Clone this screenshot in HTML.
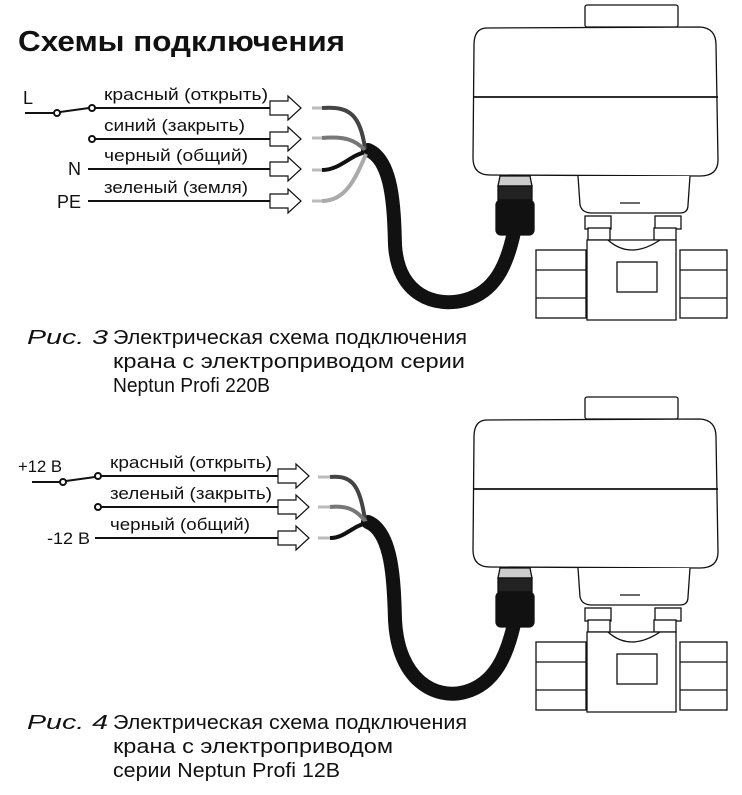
<!DOCTYPE html>
<html><head><meta charset="utf-8"><style>
html,body{margin:0;padding:0;background:#fff;}
svg{display:block;font-family:"Liberation Sans","DejaVu Sans",sans-serif;}
</style></head><body>
<svg width="742" height="795" viewBox="0 0 742 795" xmlns="http://www.w3.org/2000/svg">
<defs>
<g id="act" fill="#fff" stroke="#111" stroke-width="1.3">
  <rect x="585" y="5" width="93" height="22" rx="2"/>
  <path d="M487,28 L700,27 Q716,28 716,45 L718,160 Q718,176 700,176 L490,175 Q473,175 473,158 L474,45 Q474,28 487,28Z"/>
  <line x1="473" y1="97" x2="718" y2="97" stroke-width="1.8"/>
  <path d="M578,176 L580,205 Q582,213 592,213 L680,213 Q688,213 688,205 L690,176"/>
  <line x1="620" y1="203" x2="640" y2="203"/>
  <rect x="585" y="216" width="26" height="13"/>
  <rect x="655" y="216" width="26" height="13"/>
  <rect x="588" y="228" width="22" height="12"/>
  <rect x="654" y="228" width="22" height="12"/>
  <path d="M587,240 L676,240 L676,320 L587,320Z"/>
  <rect x="536" y="250" width="50" height="68"/>
  <line x1="536" y1="270" x2="586" y2="270"/><line x1="536" y1="298" x2="586" y2="298"/>
  <rect x="680" y="250" width="47" height="68"/>
  <line x1="680" y1="270" x2="727" y2="270"/><line x1="680" y1="298" x2="727" y2="298"/>
  <path d="M608,240 Q630,260 660,240" fill="none"/>
  <rect x="617" y="262" width="40" height="30"/>
  <path d="M500,176 L530,176 L532,186 L498,186Z" fill="#ccc"/>
  <rect x="498" y="186" width="34" height="14" fill="#222"/>
  <rect x="496" y="200" width="38" height="35" rx="5" fill="#111"/>
</g>
<g id="arr" fill="#fff" stroke="#111" stroke-width="1.2">
  <path d="M0,-7 L18,-7 L18,-12 L31,0 L18,12 L18,7 L0,7Z"/>
</g>
</defs>

<text x="18" y="51" font-size="29" font-weight="bold" fill="#111" textLength="327" lengthAdjust="spacingAndGlyphs">Схемы подключения</text>

<!-- Figure 1 -->
<use href="#act"/>
<path d="M368,150 C392,160 394,205 395,245 C398,295 435,308 465,300 C495,292 507,265 514,232" fill="none" stroke="#111" stroke-width="14" stroke-linecap="round"/>
<g fill="none" stroke-width="4">
  <path d="M322,108 C350,106 360,115 365,148" stroke="#444"/>
  <path d="M322,138 C345,136 355,140 365,150" stroke="#777"/>
  <path d="M322,170 C340,170 350,155 366,152" stroke="#111"/>
  <path d="M322,201 C345,201 355,180 366,154" stroke="#aaa"/>
</g>
<g stroke="#bbb" stroke-width="3"><line x1="312" y1="108" x2="322" y2="108"/><line x1="312" y1="138" x2="322" y2="138"/><line x1="312" y1="170" x2="322" y2="170"/><line x1="312" y1="201" x2="322" y2="201"/></g>
<g stroke="#111" stroke-width="2" fill="#fff">
  <line x1="25" y1="113" x2="54" y2="113"/><line x1="60" y1="112" x2="89" y2="108"/>
  <line x1="95" y1="108" x2="270" y2="108"/>
  <line x1="95" y1="139" x2="270" y2="139"/>
  <line x1="88" y1="169" x2="270" y2="169"/>
  <line x1="88" y1="201" x2="270" y2="201"/>
  <circle cx="57" cy="113" r="3"/><circle cx="92" cy="108" r="3"/><circle cx="92" cy="139" r="3"/>
</g>
<use href="#arr" x="270" y="108"/><use href="#arr" x="270" y="139"/><use href="#arr" x="270" y="169"/><use href="#arr" x="270" y="201"/>
<g font-size="17" fill="#111">
  <text x="23" y="104" font-size="18">L</text>
  <text x="68" y="175" font-size="18">N</text>
  <text x="57" y="208" font-size="18">PE</text>
  <text x="104" y="100" textLength="164" lengthAdjust="spacingAndGlyphs">красный (открыть)</text>
  <text x="104" y="131" textLength="141" lengthAdjust="spacingAndGlyphs">синий (закрыть)</text>
  <text x="104" y="161" textLength="144" lengthAdjust="spacingAndGlyphs">черный (общий)</text>
  <text x="104" y="193" textLength="144" lengthAdjust="spacingAndGlyphs">зеленый (земля)</text>
</g>
<g font-size="20" fill="#111">
  <text x="27" y="344" font-style="italic" textLength="81" lengthAdjust="spacingAndGlyphs">Рис. 3</text>
  <text x="113" y="344" textLength="354" lengthAdjust="spacingAndGlyphs">Электрическая схема подключения</text>
  <text x="113" y="368" textLength="352" lengthAdjust="spacingAndGlyphs">крана с электроприводом серии</text>
  <text x="113" y="392" textLength="157" lengthAdjust="spacingAndGlyphs">Neptun Profi 220B</text>
</g>

<!-- Figure 2 -->
<g transform="translate(0,392)"><use href="#act"/></g>
<path d="M368,522 C392,532 394,580 395,620 C398,680 435,700 465,692 C495,684 507,655 514,624" fill="none" stroke="#111" stroke-width="14" stroke-linecap="round"/>
<g fill="none" stroke-width="4">
  <path d="M330,477 C352,475 360,485 365,520" stroke="#444"/>
  <path d="M330,507 C350,505 358,512 366,522" stroke="#777"/>
  <path d="M330,538 C345,538 352,526 367,523" stroke="#111"/>
</g>
<g stroke="#bbb" stroke-width="3"><line x1="318" y1="477" x2="330" y2="477"/><line x1="318" y1="507" x2="330" y2="507"/><line x1="318" y1="538" x2="330" y2="538"/></g>
<g stroke="#111" stroke-width="2" fill="#fff">
  <line x1="32" y1="482" x2="60" y2="482"/><line x1="66" y1="481" x2="95" y2="477"/>
  <line x1="101" y1="476" x2="278" y2="476"/>
  <line x1="101" y1="507" x2="278" y2="507"/>
  <line x1="95" y1="538" x2="278" y2="538"/>
  <circle cx="63" cy="482" r="3"/><circle cx="98" cy="476" r="3"/><circle cx="98" cy="507" r="3"/>
</g>
<use href="#arr" x="278" y="476"/><use href="#arr" x="278" y="507"/><use href="#arr" x="278" y="538"/>
<g font-size="17" fill="#111">
  <text x="18" y="472" textLength="44" lengthAdjust="spacingAndGlyphs">+12 В</text>
  <text x="47" y="544" textLength="43" lengthAdjust="spacingAndGlyphs">-12 В</text>
  <text x="110" y="468" textLength="162" lengthAdjust="spacingAndGlyphs">красный (открыть)</text>
  <text x="110" y="499" textLength="162" lengthAdjust="spacingAndGlyphs">зеленый (закрыть)</text>
  <text x="110" y="530" textLength="140" lengthAdjust="spacingAndGlyphs">черный (общий)</text>
</g>
<g font-size="20" fill="#111">
  <text x="27" y="729" font-style="italic" textLength="81" lengthAdjust="spacingAndGlyphs">Рис. 4</text>
  <text x="113" y="729" textLength="354" lengthAdjust="spacingAndGlyphs">Электрическая схема подключения</text>
  <text x="113" y="753" textLength="280" lengthAdjust="spacingAndGlyphs">крана с электроприводом</text>
  <text x="113" y="777" textLength="227" lengthAdjust="spacingAndGlyphs">серии Neptun Profi 12B</text>
</g>
</svg>
</body></html>
